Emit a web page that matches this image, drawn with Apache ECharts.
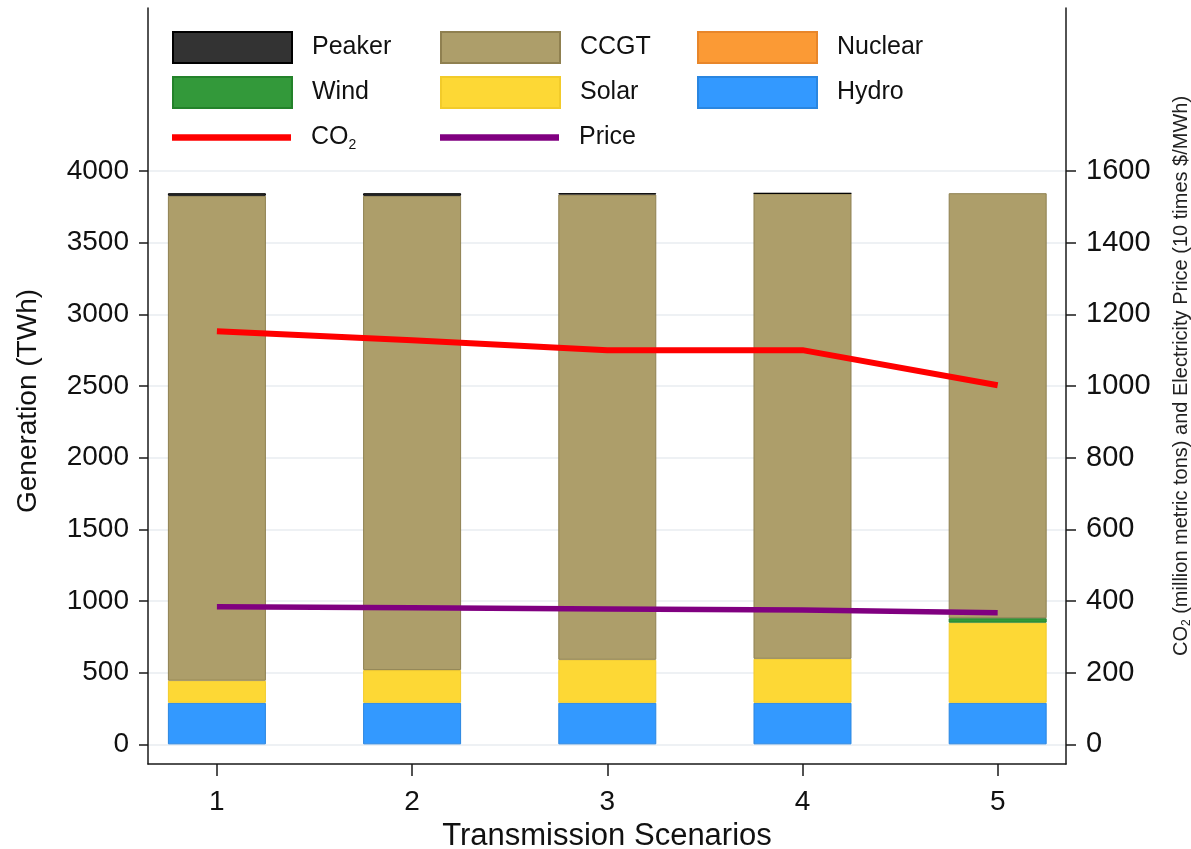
<!DOCTYPE html>
<html>
<head>
<meta charset="utf-8">
<script src="https://cdn.jsdelivr.net/npm/echarts@6/dist/echarts.min.js"></script>
<style>
html,body{margin:0;padding:0;background:#fff;}
#chart{width:1191px;height:849px;}
</style>
</head>
<body>
<div id="chart"></div>
<script>
// ---- data ----
const scenarios = [1, 2, 3, 4, 5];
const hydro   = [290, 290, 290, 290, 290];
const nuclear = [0, 0, 0, 0, 0];
const solar   = [154, 228, 300, 307, 559];
const wind    = [0, 0, 0, 0, 31];
const ccgt    = [3383, 3309, 3246, 3246, 2965];
const peaker  = [18, 18, 9, 2, 0];
const co2     = [1153, 1128, 1100, 1100, 1002];
const price   = [384, 381, 378, 375, 367];
const leftTicks  = [0, 500, 1000, 1500, 2000, 2500, 3000, 3500, 4000];
const rightTicks = [0, 200, 400, 600, 800, 1000, 1200, 1400, 1600];

const FONT = '"Liberation Sans", Arial, sans-serif';
// value first, scenario second: the stacked dimension must be the first one.
// zero-height segments are left empty so their borders are not drawn.
const valFirst = arr => scenarios.map((s, i) => [arr[i] === 0 ? '-' : arr[i], s]);
const pair = arr => scenarios.map((s, i) => [s, arr[i]]);

function barSeries(name, arr, color, border) {
  return {
    name, type: 'bar', stack: 'gen', barWidth: 98,
    data: valFirst(arr),
    encode: { x: 1, y: 0 },
    itemStyle: { color, borderColor: border, borderWidth: 1 },
    emphasis: { disabled: true }
  };
}

const chart = echarts.init(document.getElementById('chart'), null, { renderer: 'canvas' });

const textStyle = {
  fontFamily: FONT, fontSize: 25, color: '#111',
  padding: [0, 0, 0, 15],
  rich: {
    n: { fontFamily: FONT, fontSize: 25, color: '#111', lineHeight: 30 },
    s: { fontFamily: FONT, fontSize: 14, color: '#111', lineHeight: 17, verticalAlign: 'bottom' }
  }
};
const rectLegend = (left, data) => ({
  orient: 'vertical', left, top: 26, data, icon: 'rect',
  itemWidth: 119, itemHeight: 31, itemGap: 12,
  selectedMode: false, textStyle
});
const lineLegend = (left, data) => ({
  orient: 'vertical', left, top: 120, data, icon: 'rect',
  itemWidth: 119, itemHeight: 6.5, itemGap: 12,
  selectedMode: false, textStyle,
  formatter: name => name === 'CO2' ? '{n|CO}{s|2}' : '{n|' + name + '}'
});

const option = {
  animation: false,
  backgroundColor: '#fff',
  grid: { left: 148, right: 125, top: 8, bottom: 85, containLabel: false, outerBoundsMode: 'none' },
  legend: [
    rectLegend(167, ['Peaker', 'Wind']),
    rectLegend(435, ['CCGT', 'Solar']),
    rectLegend(692, ['Nuclear', 'Hydro']),
    lineLegend(167, ['CO2']),
    lineLegend(435, ['Price'])
  ],
  xAxis: {
    type: 'value', min: 0.647, max: 5.35,
    name: 'Transmission Scenarios', nameLocation: 'middle', nameGap: 49,
    nameTextStyle: { fontFamily: FONT, fontSize: 31, color: '#111' },
    axisLine: { show: true, onZero: false, lineStyle: { color: '#1a1a1a', width: 1.5 } },
    axisTick: { show: true, length: 12, customValues: scenarios, lineStyle: { color: '#1a1a1a', width: 1.5 } },
    axisLabel: { customValues: scenarios, margin: 24, fontFamily: FONT, fontSize: 28, color: '#111', formatter: v => String(v) },
    splitLine: { show: false }
  },
  yAxis: [
    {
      type: 'value', min: -137, max: 5137, position: 'left',
      name: 'Generation (TWh)', nameLocation: 'middle', nameGap: 106, nameRotate: 90,
      nameTextStyle: { fontFamily: FONT, fontSize: 28, color: '#111', padding: [0, 30, 0, 0] },
      axisLine: { show: true, onZero: false, lineStyle: { color: '#1a1a1a', width: 1.5 } },
      axisTick: { show: true, length: 9, customValues: leftTicks, lineStyle: { color: '#1a1a1a', width: 1.5 } },
      axisLabel: { customValues: leftTicks, margin: 19, fontFamily: FONT, fontSize: 28, color: '#111', formatter: v => String(v) },
      splitLine: { show: true, lineStyle: { color: '#e8ecf1', width: 1.5 } }
    },
    {
      type: 'value', min: -54.8, max: 2054.8, position: 'right',
      name: '{a|CO}{b|2}{a| (million metric tons) and Electricity Price (10 times $/MWh)}',
      nameLocation: 'middle', nameGap: 103, nameRotate: 90,
      nameTextStyle: {
        fontFamily: FONT, fontSize: 20, color: '#222',
        padding: [0, 0, 0, 20],
        rich: {
          a: { fontFamily: FONT, fontSize: 20, color: '#222', lineHeight: 24 },
          b: { fontFamily: FONT, fontSize: 12, color: '#222', lineHeight: 14, verticalAlign: 'bottom' }
        }
      },
      axisLine: { show: true, onZero: false, lineStyle: { color: '#1a1a1a', width: 1.5 } },
      axisTick: { show: true, length: 10, customValues: rightTicks, lineStyle: { color: '#1a1a1a', width: 1.5 } },
      axisLabel: { customValues: rightTicks, margin: 20, fontFamily: FONT, fontSize: 29, color: '#111', formatter: v => String(v) },
      splitLine: { show: false }
    }
  ],
  series: [
    barSeries('Hydro', hydro, '#3399ff', '#2a86e0'),
    barSeries('Nuclear', nuclear, '#fb9a35', '#e8862a'),
    barSeries('Solar', solar, '#fdd835', '#f2cb2a'),
    barSeries('Wind', wind, '#33993a', '#23822a'),
    barSeries('CCGT', ccgt, '#ad9e6a', '#8f8050'),
    barSeries('Peaker', peaker, '#333333', '#000000'),
    {
      name: 'CO2', type: 'line', yAxisIndex: 1, data: pair(co2),
      symbol: 'none', lineStyle: { color: '#ff0000', width: 6 }, itemStyle: { color: '#ff0000' },
      z: 5, emphasis: { disabled: true }
    },
    {
      name: 'Price', type: 'line', yAxisIndex: 1, data: pair(price),
      symbol: 'none', lineStyle: { color: '#800080', width: 5.5 }, itemStyle: { color: '#800080' },
      z: 5, emphasis: { disabled: true }
    }
  ]
};
chart.setOption(option);
</script>
</body>
</html>
